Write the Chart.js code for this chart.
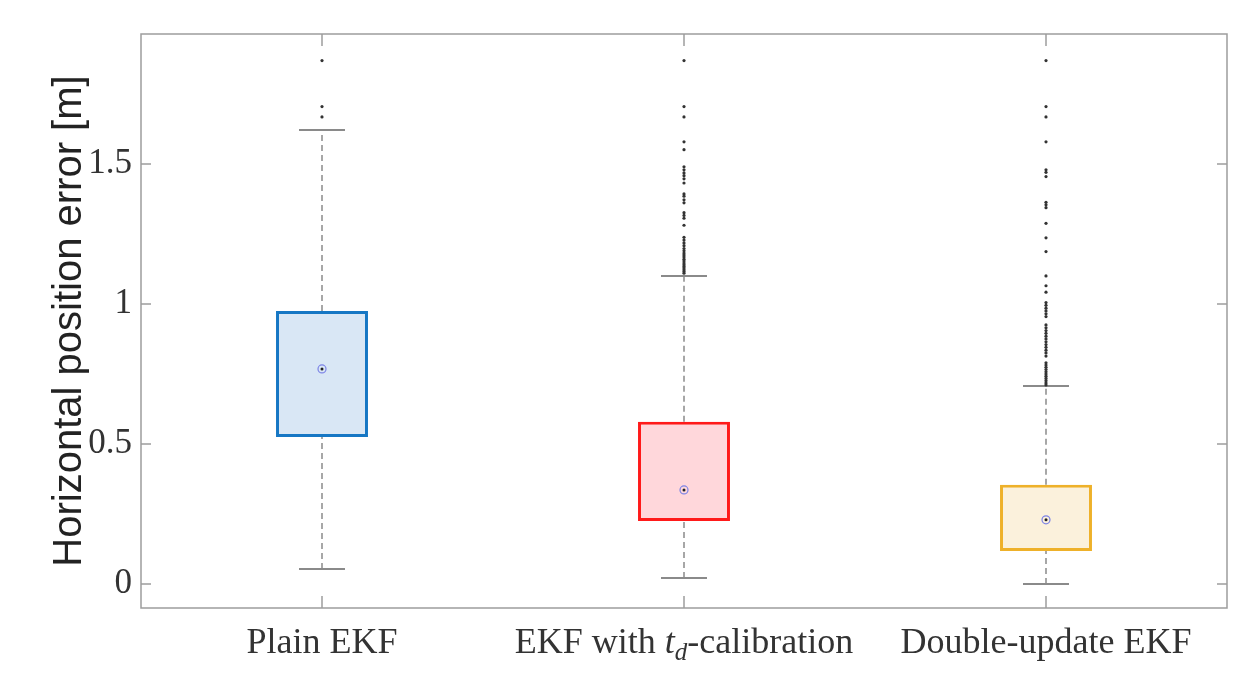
<!DOCTYPE html>
<html>
<head>
<meta charset="utf-8">
<script src="https://cdn.jsdelivr.net/npm/chart.js@4.4.1/dist/chart.umd.min.js"></script>
<style>
  html,body{margin:0;padding:0;background:#fff;}
  #wrap{width:1251px;height:673px;position:relative;}
</style>
</head>
<body>
<div id="wrap"><canvas id="c"></canvas></div>
<script>
// categorias y estadisticos
const categories = ["Plain EKF", "EKF with t_d-calibration", "Double-update EKF"];
const q1 = [0.525, 0.225, 0.118];
const q3 = [0.975, 0.579, 0.354];
const medians = [0.768, 0.336, 0.229];
const whiskLo = [0.054, 0.021, 0.0];
const whiskHi = [1.621, 1.100, 0.707];
const outPlain = [1.869, 1.705, 1.668];
const outTd = [1.869, 1.705, 1.668, 1.579, 1.551, 1.490, 1.479, 1.468, 1.458, 1.447, 1.432,
  1.393, 1.385, 1.372, 1.361, 1.326, 1.316, 1.306, 1.281, 1.238, 1.228, 1.218, 1.208, 1.198,
  1.190, 1.182, 1.175, 1.168, 1.160, 1.153, 1.146, 1.140, 1.134, 1.128, 1.122, 1.116, 1.110];
const outDouble = [1.869, 1.705, 1.668, 1.579, 1.479, 1.470, 1.455, 1.363, 1.354, 1.344, 1.288,
  1.236, 1.187, 1.100, 1.065, 1.042, 1.005, 0.995, 0.985, 0.975, 0.965, 0.955, 0.925, 0.915,
  0.905, 0.895, 0.885, 0.875, 0.865, 0.855, 0.845, 0.835, 0.825, 0.814, 0.790, 0.782, 0.774,
  0.766, 0.758, 0.750, 0.742, 0.734, 0.726, 0.718, 0.711];
const yTicks = [0, 0.5, 1, 1.5];
const yMin = -0.0857, yMax = 1.964;

const edgeColors = ["#1677c4", "#ff1a1a", "#eeb12a"];
const fillColors = ["#d9e7f5", "#ffd7db", "#fbf1dc"];
const AXIS = "#9d9d9d";
const capHalf = 0.0635;

const outliers = [outPlain, outTd, outDouble];
const whiskUp = [], whiskDown = [], caps = [], outPts = [], medPts = [];
categories.forEach((c,i)=>{
  whiskUp.push({x:i,y:q3[i]},{x:i,y:whiskHi[i]},{x:i,y:null});
  whiskDown.push({x:i,y:whiskLo[i]},{x:i,y:q1[i]},{x:i,y:null});
  caps.push({x:i-capHalf,y:whiskHi[i]},{x:i+capHalf,y:whiskHi[i]},{x:i,y:null});
  caps.push({x:i-capHalf,y:whiskLo[i]},{x:i+capHalf,y:whiskLo[i]},{x:i,y:null});
  outliers[i].forEach(v=>outPts.push({x:i,y:v}));
  medPts.push({x:i,y:medians[i]});
});

const frame = {
  id: "frame",
  afterDraw(chart) {
    const {ctx, chartArea:a, scales} = chart;
    ctx.save();
    ctx.strokeStyle = AXIS;
    ctx.lineWidth = 1.5;
    ctx.strokeRect(a.left, a.top, a.right-a.left, a.bottom-a.top);
    ctx.beginPath();
    yTicks.forEach(v=>{
      const p = scales.y.getPixelForValue(v);
      ctx.moveTo(a.left, p); ctx.lineTo(a.left+10, p);
      ctx.moveTo(a.right, p); ctx.lineTo(a.right-10, p);
    });
    categories.forEach((c,i)=>{
      const p = scales.x.getPixelForValue(i);
      ctx.moveTo(p, a.bottom); ctx.lineTo(p, a.bottom-12);
      ctx.moveTo(p, a.top); ctx.lineTo(p, a.top+12);
    });
    ctx.stroke();

    // etiquetas del eje x (con subindice)
    ctx.fillStyle = "#333";
    ctx.textBaseline = "alphabetic";
    ctx.textAlign = "left";
    const base = a.bottom + 45;
    categories.forEach((c,i)=>{
      const px = scales.x.getPixelForValue(i);
      let parts;
      if(c.includes("t_d")) {
        const [pre, post] = c.split("t_d");
        parts = [
          {t:pre, f:'36px "Liberation Serif"', dy:0},
          {t:"t", f:'italic 36px "Liberation Serif"', dy:0},
          {t:"d", f:'italic 25px "Liberation Serif"', dy:7},
          {t:post, f:'36px "Liberation Serif"', dy:0}
        ];
      } else {
        parts = [{t:c, f:'36px "Liberation Serif"', dy:0}];
      }
      let w = 0;
      parts.forEach(p=>{ ctx.font = p.f; p.w = ctx.measureText(p.t).width; w += p.w; });
      let x = px - w/2;
      parts.forEach(p=>{ ctx.font = p.f; ctx.fillText(p.t, x, base+p.dy); x += p.w; });
    });
    ctx.restore();
  }
};

new Chart(document.getElementById("c"), {
  type: "bar",
  data: {
    labels: categories,
    datasets: [
      {
        type: "line", xAxisID: "xl", data: whiskUp.concat(whiskDown),
        borderColor: "#8a8a8a", borderWidth: 1.5, borderDash: [6,4],
        pointRadius: 0, spanGaps: false, order: 4
      },
      {
        type: "line", xAxisID: "xl", data: caps,
        borderColor: "#8a8a8a", borderWidth: 2,
        pointRadius: 0, spanGaps: false, order: 4
      },
      {
        type: "bar", xAxisID: "x", grouped: false,
        data: categories.map((c,i)=>[q1[i], q3[i]]),
        backgroundColor: fillColors, borderColor: edgeColors,
        borderWidth: 3, borderSkipped: false,
        barPercentage: 0.254, categoryPercentage: 1, order: 3
      },
      {
        type: "scatter", xAxisID: "xl", data: outPts,
        pointRadius: 1.6, pointBackgroundColor: "#333", pointBorderWidth: 0, order: 2
      },
      {
        type: "scatter", xAxisID: "xl", data: medPts,
        pointRadius: 4, pointBackgroundColor: "rgba(0,0,0,0)",
        pointBorderColor: "#7b82e6", pointBorderWidth: 1.2, order: 1
      },
      {
        type: "scatter", xAxisID: "xl", data: medPts,
        pointRadius: 1.5, pointBackgroundColor: "#222", pointBorderWidth: 0, order: 0
      }
    ]
  },
  options: {
    responsive: true, maintainAspectRatio: false, animation: false,
    layout: { padding: { top: 34, right: 24, left: 0, bottom: 0 } },
    plugins: { legend: { display: false }, tooltip: { enabled: false } },
    scales: {
      x: {
        type: "category", offset: true,
        grid: { display: false, drawTicks: false }, border: { display: false },
        ticks: { display: false },
        afterFit(s) { s.height = 65; }
      },
      xl: { type: "linear", display: false, offset: false, min: -0.5, max: 2.5 },
      y: {
        min: yMin, max: yMax,
        grid: { display: false, drawTicks: false }, border: { display: false },
        afterBuildTicks(s) { s.ticks = yTicks.map(v=>({value:v})); },
        afterFit(s) { s.width = 141; },
        ticks: {
          padding: 9, color: "#333",
          font: { family: "Liberation Serif", size: 35 },
          callback: v => String(v)
        },
        title: {
          display: true, text: "Horizontal position error [m]",
          color: "#222", font: { family: "Liberation Sans", size: 40 },
          padding: { top: 46, bottom: 0 }
        }
      }
    }
  },
  plugins: [frame]
});
</script>
</body>
</html>
